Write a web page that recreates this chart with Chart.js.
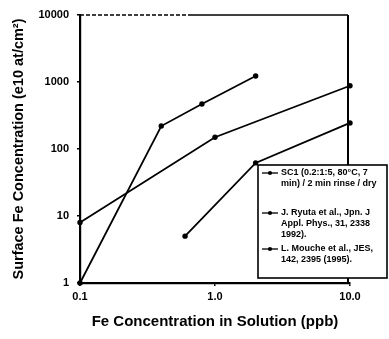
<!DOCTYPE html>
<html><head><meta charset="utf-8">
<script src="https://cdn.jsdelivr.net/npm/chart.js@4/dist/chart.umd.min.js"></script>
<style>html,body{margin:0;padding:0;background:#fff;}#wrap{position:relative;width:389px;height:339px;}</style>
</head><body><div id="wrap"><canvas id="c" width="389" height="339"></canvas></div>
<script>
// ---- data ----
const xTicks = [0.1, 1, 10];
const xTickLabels = ['0.1', '1.0', '10.0'];
const yTicks = [1, 10, 100, 1000, 10000];
const yTickLabels = ['1', '10', '100', '1000', '10000'];

const sc1X = [0.1, 0.4, 0.8, 2];
const sc1Y = [1, 220, 470, 1230];
const ryutaX = [0.1, 1, 10];
const ryutaY = [8, 150, 880];
const moucheX = [0.6, 2, 10];
const moucheY = [5, 62, 245];

const seriesLabels = [
  'SC1 (0.2:1:5, 80°C, 7 min) / 2 min rinse / dry',
  'J. Ryuta et al., Jpn. J Appl. Phys., 31, 2338 (1992).',
  'L. Mouche et al., JES, 142, 2395 (1995).'
];
const legendLines = [
  ['SC1 (0.2:1:5, 80°C, 7', 'min) / 2 min rinse / dry'],
  ['J. Ryuta et al., Jpn. J', 'Appl. Phys., 31, 2338', '1992).'],
  ['L. Mouche et al., JES,', '142, 2395 (1995).']
];
const xTitle = 'Fe Concentration in Solution (ppb)';
const yTitle = 'Surface Fe Concentration (e10 at/cm²)';

// ---- build ----
const FONT = '"Liberation Sans", Arial, sans-serif';
const pts = (xs, ys) => xs.map((x, i) => ({x: x, y: ys[i]}));
const mk = (label, xs, ys) => ({
  label, data: pts(xs, ys), showLine: true, borderColor: '#000', backgroundColor: '#000',
  borderWidth: 1.8, pointRadius: 2.7, pointHoverRadius: 2.7, pointBorderWidth: 0, clip: false
});

const framePlugin = {
  id: 'frameLegend',
  afterDraw(chart) {
    const ctx = chart.ctx, a = chart.chartArea;
    ctx.save();
    ctx.strokeStyle = '#000';
    ctx.lineWidth = 1.3;
    ctx.setLineDash([4, 2]);
    ctx.beginPath(); ctx.moveTo(a.left, a.top); ctx.lineTo(a.left + 110, a.top); ctx.stroke();
    ctx.setLineDash([]);
    ctx.beginPath(); ctx.moveTo(a.left + 110, a.top); ctx.lineTo(a.right - 2, a.top); ctx.stroke();
    ctx.lineWidth = 2;
    ctx.beginPath(); ctx.moveTo(a.right - 2, a.top); ctx.lineTo(a.right - 2, a.bottom); ctx.stroke();
    // legend box
    const bx = a.right - 92, by = a.top + 150, bw = 129, bh = 113;
    ctx.fillStyle = '#fff';
    ctx.fillRect(bx, by, bw, bh);
    ctx.lineWidth = 1.6;
    ctx.strokeRect(bx, by, bw, bh);
    ctx.font = 'bold 9px ' + FONT;
    ctx.textBaseline = 'middle';
    ctx.textAlign = 'left';
    ctx.fillStyle = '#000';
    const starts = [by + 8, by + 48, by + 84];
    const lh = 10.8;
    legendLines.forEach((lines, i) => {
      const y0 = starts[i];
      ctx.lineWidth = 1.3;
      ctx.beginPath(); ctx.moveTo(bx + 4, y0); ctx.lineTo(bx + 20, y0); ctx.stroke();
      ctx.beginPath(); ctx.arc(bx + 12, y0, 2.1, 0, Math.PI * 2); ctx.fill();
      lines.forEach((t, j) => ctx.fillText(t, bx + 23, y0 + j * lh));
    });
    ctx.restore();
  }
};

new Chart(document.getElementById('c'), {
  type: 'scatter',
  data: {
    datasets: [
      mk(seriesLabels[0], sc1X, sc1Y),
      mk(seriesLabels[1], ryutaX, ryutaY),
      mk(seriesLabels[2], moucheX, moucheY)
    ]
  },
  options: {
    responsive: false, animation: false, devicePixelRatio: 1,
    layout: {padding: {left: 0, top: 15, right: 39, bottom: 0}},
    plugins: {legend: {display: false}, tooltip: {enabled: false}},
    scales: {
      x: {
        type: 'logarithmic', min: 0.1, max: 10,
        afterBuildTicks: s => { s.ticks = xTicks.map(v => ({value: v})); },
        afterFit: s => { s.height = 56; },
        ticks: {callback: (v, i) => xTickLabels[i], font: {family: FONT, weight: 'bold', size: 11}, color: '#000', padding: 4, maxRotation: 0, autoSkip: false},
        grid: {display: true, drawOnChartArea: false, drawTicks: true, tickLength: 3, color: '#000', lineWidth: 1.5},
        border: {display: true, color: '#000', width: 2.2},
        title: {display: true, text: xTitle, color: '#000', font: {family: FONT, weight: 'bold', size: 15}, padding: {top: 0, bottom: 8}}
      },
      y: {
        type: 'logarithmic', min: 1, max: 10000,
        afterBuildTicks: s => { s.ticks = yTicks.map(v => ({value: v})); },
        afterFit: s => { s.width = 80; },
        ticks: {callback: (v, i) => yTickLabels[i], font: {family: FONT, weight: 'bold', size: 11}, color: '#000', padding: 8, autoSkip: false},
        grid: {display: true, drawOnChartArea: false, drawTicks: true, tickLength: 3, color: '#000', lineWidth: 1.5},
        border: {display: true, color: '#000', width: 2.2},
        title: {display: true, text: yTitle, color: '#000', font: {family: FONT, weight: 'bold', size: 14.5}, padding: {top: 10, bottom: 0}}
      }
    }
  },
  plugins: [framePlugin]
});
</script></body></html>
